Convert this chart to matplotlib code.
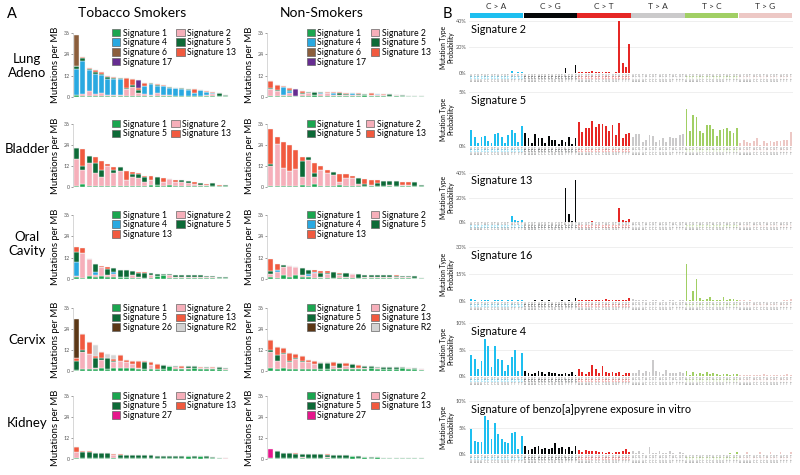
import numpy as np
import matplotlib
matplotlib.use("Agg")
import matplotlib.pyplot as plt
from matplotlib.patches import Patch, Rectangle

plt.rcParams['font.family'] = ['Lato', 'DejaVu Sans']

W, H = 800, 475

# ---------------- panel A data (segment heights, mutations per MB) ----------------
lung_smk_s1 = [1.0, 0.7, 0.7, 0.7, 0.7, 0.7, 0.7, 0.7, 0.7, 0.7, 0.7, 0.7, 0.7, 0.7, 0.7, 0.7, 0.6, 0.6, 0.6, 0.5, 0.5, 0.5, 0.4, 0.6, 0.4]
lung_smk_s2 = [0.3, 0.8, 2.8, 0.8, 1.8, 0.5, 0.3, 0.3, 3.8, 5.0, 1.8, 0.8, 0.3, 1.5, 0.3, 0.2, 0.2, 0.2, 0.2, 0.3, 0.2, 0.6, 1.5, 0.2, 0.2]
lung_smk_s4 = [14.7, 19.0, 11.5, 11.5, 10.0, 8.8, 9.0, 9.0, 0, 0, 0, 4.5, 6.5, 4.0, 5.0, 4.4, 4.2, 3.8, 3.4, 1.3, 3.0, 1.6, 0.3, 0, 0]
lung_smk_s5 = [1.5, 1.5, 0.5, 0.8, 0.7, 1.0, 0.5, 0.5, 0.3, 0.8, 1.5, 0.3, 0.5, 0.3, 0.3, 0.3, 0.3, 0.4, 0.3, 0.2, 0.2, 0.2, 0.2, 1.2, 0.4]
lung_smk_s13 = [0, 0.6, 1.0, 1.2, 0.8, 1.0, 0.5, 0.3, 5.7, 3.5, 0.8, 1.8, 0, 0.8, 0.4, 0, 0, 0, 0, 2.1, 0, 0.5, 0.6, 0, 0]
lung_smk_s17 = [0, 0, 0, 0, 0, 0, 0, 0, 0, 0, 4.7, 0, 0, 0, 0, 0, 0, 0, 0, 0, 0, 0, 0, 0, 0]
lung_smk_s6 = [17.5, 0, 0, 0, 0, 0, 0, 0, 0, 0, 0, 0, 0, 0, 0, 0, 0, 0, 0, 0, 0, 0, 0, 0, 0]

lung_non_s1 = [0.7, 0.7, 0.7, 0.7, 0.5, 0.6, 0.6, 1.2, 0.7, 0.6, 0.6, 0.8, 0.6, 0.6, 0.6, 1.0, 0.6, 0.6, 0.6, 0.8, 0.5, 0.5, 0.4, 0.4, 0.3]
lung_non_s2 = [3.8, 2.8, 0.3, 1.5, 0, 1.2, 1.8, 0, 0.8, 1.6, 0.4, 0.3, 0.7, 0.3, 0.7, 0, 0.6, 0.3, 0.5, 0, 0.4, 0.3, 0.3, 0.2, 0.2]
lung_non_s4 = [0, 0, 4.5, 1.2, 0, 0, 0, 0, 0.8, 0, 1.0, 0, 0, 1.2, 0, 0, 0, 0.8, 0, 0, 0, 0, 0, 0, 0]
lung_non_s5 = [0.5, 0.3, 0.3, 0.3, 0.3, 0.3, 0.2, 1.6, 0.3, 0.2, 0.3, 1.3, 0.3, 0.2, 0.3, 0.9, 0.2, 0.2, 0.2, 0.7, 0.2, 0.2, 0, 0, 0]
lung_non_s13 = [3.9, 3.2, 0.4, 1.3, 0, 1.4, 0.4, 0, 0.3, 0.3, 0.3, 0.2, 0.9, 0.2, 0.6, 0, 0.6, 0, 0.5, 0, 0.1, 0, 0, 0, 0]
lung_non_s17 = [0, 0, 0, 0, 3.6, 0, 0, 0, 0, 0, 0, 0, 0, 0, 0, 0, 0, 0, 0, 0, 0, 0, 0, 0, 0]
lung_non_s6 = [0, 0, 0, 0, 0, 0, 0, 0, 0, 0, 0, 0, 0, 0, 0, 0, 0, 0, 0, 0, 0, 0, 0, 0, 0]

bladder_smk_s1 = [0.8, 1.5, 0.8, 0.8, 0.8, 0.8, 0.8, 0.8, 0.8, 0.8, 0.8, 0.8, 1.0, 1.0, 0.8, 1.0, 0.8, 0.8, 0.8, 0.8, 0.8, 0.6, 0.5, 0.5, 0.4]
bladder_smk_s2 = [15.2, 8.5, 13.2, 7.2, 5.2, 11.2, 7.2, 8.2, 3.2, 5.2, 4.2, 2.2, 3.0, 0, 2.2, 3.5, 2.2, 2.2, 1.7, 1.2, 0.5, 0.6, 0, 0.3, 0.2]
bladder_smk_s5 = [6.5, 2.0, 4.0, 6.0, 4.0, 0, 2.0, 2.5, 0, 1.5, 2.5, 3.0, 0, 5.0, 0, 0, 0, 1.0, 1.0, 0, 1.2, 0, 1.6, 0, 0.4]
bladder_smk_s13 = [0, 9.5, 0, 3.0, 5.0, 1.0, 1.5, 0, 5.0, 1.0, 0.5, 0.5, 2.5, 0, 2.0, 0, 1.0, 0, 0, 1.0, 0, 0.8, 0, 0.6, 0]

bladder_non_s1 = [0.5, 0.5, 0.5, 0.5, 0.5, 1.0, 0.5, 2.0, 0.5, 0.5, 0.5, 1.0, 0.5, 0.5, 0.5, 0.5, 0.5, 0.5, 0.5, 0.5, 0.5, 0.5, 0.5, 0.5, 0.3]
bladder_non_s2 = [11.5, 24.0, 10.5, 8.5, 10.0, 4.5, 15.0, 4.0, 9.5, 7.5, 6.5, 2.0, 4.5, 4.5, 1.5, 0, 0.5, 0, 0, 0.5, 0, 0.5, 0.5, 0, 0]
bladder_non_s5 = [1.0, 0, 0, 0, 0, 9.5, 1.5, 2.0, 0, 0, 1.5, 0, 0, 0, 3.0, 1.5, 0, 2.0, 3.0, 2.5, 3.0, 0, 0, 2.5, 0.8]
bladder_non_s13 = [20.0, 4.0, 14.5, 15.0, 10.5, 2.0, 0, 6.0, 2.0, 2.0, 0, 4.5, 2.5, 1.5, 0, 2.5, 3.0, 1.5, 0, 0, 0, 2.0, 2.0, 0, 0]

oral_smk_s1 = [1.0, 0.5, 1.5, 1.0, 1.5, 1.0, 1.0, 1.0, 1.0, 0.8, 0.8, 0.8, 0.8, 1.5, 2.0, 0.8, 0.8, 0.8, 0.8, 0.8, 0.8, 0.8, 0.6, 0.6, 0.4]
oral_smk_s2 = [0.5, 14.0, 9.5, 1.0, 5.0, 1.0, 2.0, 0, 0.3, 1.7, 0.5, 0, 1.2, 0, 0.3, 1.5, 0.2, 0.5, 0.3, 0.4, 0.6, 0.4, 0.3, 0.2, 0.2]
oral_smk_s4 = [8.0, 0, 0, 2.0, 0, 0, 1.0, 0, 0, 0, 0, 0, 0, 0, 0, 0, 0, 0, 0, 0, 0, 0, 0, 0, 0]
oral_smk_s5 = [5.5, 0, 0, 4.5, 0.5, 3.5, 2.0, 4.0, 3.7, 2.0, 2.2, 2.7, 1.5, 1.5, 0.5, 0.3, 1.5, 1.2, 1.3, 1.0, 0.6, 0.7, 0.6, 0.6, 0.4]
oral_smk_s13 = [3.0, 3.0, 0, 0, 0.3, 1.0, 0, 0, 0, 0, 0.5, 0.5, 0, 0, 0, 0, 0, 0, 0, 0, 0, 0, 0, 0, 0]

oral_non_s1 = [1.0, 0.8, 2.0, 1.0, 2.0, 1.0, 1.0, 0.8, 0.8, 0.8, 0.8, 0.8, 0.8, 0.8, 0.8, 0.8, 0.8, 0.8, 0.8, 0.8, 0.8, 0.8, 0.8, 0.6, 0.3]
oral_non_s2 = [2.0, 3.2, 5.0, 6.5, 5.0, 1.0, 0.5, 2.5, 0.5, 2.2, 0, 1.5, 0.3, 1.8, 0, 0.5, 0.3, 0.5, 0.2, 0.2, 0.3, 0.2, 0.2, 0.2, 0.4]
oral_non_s4 = [0, 1.0, 0, 0, 0, 0, 1.5, 0.7, 0, 0, 0, 0, 0, 0, 0, 0, 0, 0, 0, 0, 0, 0, 0, 0, 0]
oral_non_s5 = [1.5, 0, 1.0, 0, 0, 4.0, 2.0, 0, 2.2, 0.5, 3.2, 0.5, 2.4, 0.4, 2.2, 1.2, 1.4, 1.2, 1.0, 1.0, 0.5, 0.8, 0.8, 0.7, 0]
oral_non_s13 = [6.5, 3.5, 0, 0, 0, 0, 0, 1.0, 1.0, 1.0, 0, 0.7, 0, 0, 0, 0, 0, 0, 0, 0, 0.4, 0, 0, 0, 0]

cervix_smk_s1 = [0.5, 1.0, 1.0, 1.0, 1.5, 1.0, 1.5, 2.0, 2.0, 2.0, 1.0, 1.0, 1.0, 1.0, 1.0, 2.8, 1.0, 1.0, 1.0, 1.5, 1.0, 1.0, 1.0, 1.0, 0.8]
cervix_smk_s2 = [0, 10.0, 8.5, 0.5, 5.0, 0, 3.5, 4.0, 3.0, 2.0, 1.0, 0, 2.5, 0, 0, 0, 1.5, 1.0, 0.5, 0, 0.5, 1.0, 0.5, 0.3, 0.4]
cervix_smk_s5 = [5.5, 1.0, 0.5, 6.0, 1.0, 6.5, 1.0, 0, 0, 0, 0, 4.0, 0, 0, 2.5, 0.2, 0.5, 0, 1.5, 1.5, 0, 0.5, 0.5, 1.2, 0.3]
cervix_smk_s13 = [1.5, 9.0, 6.5, 1.0, 3.5, 0, 1.0, 3.0, 1.5, 2.0, 4.0, 0.5, 1.5, 3.0, 0, 0, 0, 1.0, 0, 0, 1.0, 0, 0.5, 0, 0]
cervix_smk_r2 = [0, 0, 0, 6.5, 0, 2.0, 2.0, 0, 0, 0, 0, 0, 0, 0, 0, 0, 0, 0, 0, 0, 0, 0, 0, 0, 0]
cervix_smk_s26 = [22.5, 0, 0, 0, 0, 0, 0, 0, 0, 0, 0, 0, 0, 0, 0, 0, 0, 0, 0, 0, 0, 0, 0, 0, 0]

cervix_non_s1 = [2.0, 1.0, 2.0, 1.0, 1.0, 1.0, 1.0, 1.0, 1.0, 1.0, 1.0, 1.0, 1.0, 1.0, 1.0, 1.0, 1.5, 1.0, 1.0, 1.0, 1.0, 1.5, 1.0, 1.0, 0.8]
cervix_non_s2 = [9.0, 5.0, 8.0, 4.0, 6.0, 4.0, 4.0, 3.0, 0, 0, 2.0, 0.5, 2.0, 0.5, 1.0, 0.5, 0.5, 1.0, 0.3, 0.3, 0.3, 0.5, 1.0, 0.2, 0.2]
cervix_non_s5 = [1.0, 3.0, 0.5, 0.5, 0.5, 1.0, 0, 0, 3.5, 3.5, 0, 3.0, 0, 2.5, 0, 1.5, 1.0, 0.5, 1.2, 1.2, 1.2, 0.5, 0, 0.8, 0]
cervix_non_s13 = [5.5, 4.5, 2.5, 5.0, 2.0, 2.5, 1.5, 1.5, 0, 0, 2.0, 0, 1.5, 0, 1.5, 0, 0, 0, 0, 0, 0, 0, 0, 0, 0]
cervix_non_r2 = [0, 0, 0, 0, 0, 0, 0, 0, 0.5, 0.5, 0, 0, 0, 0, 0, 0, 0, 0, 0, 0, 0, 0, 0, 0, 0]
cervix_non_s26 = [0, 0, 0, 0, 0, 0, 0, 0, 0, 0, 0, 0, 0, 0, 0, 0, 0, 0, 0, 0, 0, 0, 0, 0, 0]

kidney_smk_s1 = [0.5, 0.5, 0.5, 0.5, 0.5, 0.5, 0.5, 0.5, 0.5, 0.5, 0.5, 0.5, 0.5, 0.5, 0.5, 0.5, 0.5, 0.5, 1.5, 0.5, 1.5, 0.5, 0.5, 0.5, 0.2]
kidney_smk_s2 = [3.5, 0.3, 0, 0, 0, 0, 1.8, 0, 0, 0, 0, 0, 0, 0, 0, 0, 0, 0, 0, 0, 0, 0, 0, 0, 0.3]
kidney_smk_s5 = [0, 3.2, 3.7, 3.0, 3.0, 3.0, 0, 2.0, 2.0, 2.0, 2.0, 2.0, 2.0, 1.5, 1.5, 1.5, 1.5, 1.0, 0, 1.0, 0, 1.0, 0.5, 0.3, 0]
kidney_smk_s13 = [3.0, 0.5, 0.3, 0, 0, 0, 0.7, 0.5, 0, 0, 0, 0, 0, 0, 0, 0, 0, 0, 0, 0, 0, 0, 0, 0, 0]
kidney_smk_s27 = [0, 0, 0, 0, 0, 0, 0, 0, 0, 0, 0, 0, 0, 0, 0, 0, 0, 0, 0, 0, 0, 0, 0, 0, 0]

kidney_non_s1 = [0.5, 0.5, 0.5, 0.5, 0.5, 0.5, 0.5, 0.5, 0.5, 0.5, 0.5, 0.5, 0.5, 1.5, 0.5, 1.2, 0.5, 0.9, 0.5, 0.8, 0.7, 0.6, 0.6, 0.5, 0.4]
kidney_non_s2 = [0, 0, 0, 0, 0, 0.8, 0, 0, 0, 0.8, 0, 0, 0, 0, 0, 0, 0, 0, 0, 0, 0, 0, 0, 0, 0]
kidney_non_s5 = [0, 4.0, 3.0, 3.0, 2.2, 1.7, 2.5, 2.5, 2.3, 1.0, 2.0, 2.0, 2.0, 0, 1.0, 0, 0.7, 0, 0.3, 0, 0, 0, 0, 0, 0]
kidney_non_s13 = [0, 0, 0, 0, 0.5, 0, 0, 0, 0, 0.5, 0, 0, 0, 0, 0, 0, 0, 0, 0, 0, 0, 0, 0, 0, 0]
kidney_non_s27 = [5.5, 0, 0, 0, 0, 0, 0, 0, 0, 0, 0, 0, 0, 0, 0, 0, 0, 0, 0, 0, 0, 0, 0, 0, 0]

# ---------------- panel B data (percent, 96 trinucleotide contexts) ----------------
sig2 = [0.3, 0.1, 0.1, 0.2, 0.1, 0.1, 0.1, 0.1, 0.2, 0.1, 0.1, 0.1, 1.2, 0.3, 0.6, 0.8,
        0.1, 0.1, 0.1, 0.1, 0.1, 0.1, 0.1, 0.1, 0.1, 0.1, 0.1, 0.1, 3.6, 0.3, 0.3, 6.5,
        0.6, 0.5, 0.4, 0.7, 1.2, 0.6, 0.5, 0.6, 0.8, 0.6, 0.3, 0.5, 40.5, 8.0, 4.5, 22.5,
        0.1, 0.05, 0.05, 0.1, 0.05, 0.05, 0.05, 0.1, 0.05, 0.05, 0.05, 0.1, 0.1, 0.05, 0.05, 0.1,
        0.05, 0.05, 0.05, 0.05, 0.05, 0.05, 0.05, 0.05, 0.05, 0.05, 0.05, 0.05, 0.05, 0.05, 0.05, 0.05,
        0.05, 0.05, 0.05, 0.05, 0.05, 0.05, 0.05, 0.05, 0.05, 0.05, 0.05, 0.05, 0.05, 0.05, 0.05, 0.05]
sig5 = [1.5, 0.85, 0.25, 0.85, 0.9, 0.45, 0.25, 1.1, 1.2, 0.85, 0.25, 1.05, 1.5, 1.2, 0.4, 1.85,
        1.2, 0.7, 0.25, 1.15, 0.7, 0.7, 0.3, 0.9, 0.55, 0.55, 0.2, 0.55, 0.4, 0.8, 0.2, 0.7,
        2.2, 1.3, 1.65, 1.65, 2.3, 1.8, 2.05, 2.0, 1.85, 1.4, 1.95, 1.05, 2.1, 0.75, 1.15, 1.2,
        0.85, 1.15, 1.1, 0.4, 0.6, 1.0, 0.9, 0.4, 0.55, 0.7, 0.4, 0.85, 0.7, 0.7, 1.0, 1.1,
        3.45, 1.4, 2.85, 2.7, 1.4, 1.2, 1.9, 1.9, 1.6, 0.9, 1.5, 1.6, 1.7, 1.4, 1.2, 1.7,
        0.3, 0.6, 0.4, 0.25, 0.45, 0.7, 0.1, 0.5, 0.25, 0.45, 0.4, 0.45, 0.5, 0.55, 0.6, 1.3]
sig13 = [0.2, 0.1, 0.1, 0.1, 0.1, 0.1, 0.1, 0.1, 0.1, 0.1, 0.1, 0.1, 5.0, 1.5, 0.5, 1.6,
         0.3, 0.2, 0.1, 0.3, 0.2, 0.2, 0.1, 0.3, 0.2, 0.2, 0.1, 0.2, 28.0, 6.5, 1.0, 34.0,
         0.3, 0.2, 0.2, 0.3, 0.5, 0.3, 0.2, 0.4, 0.3, 0.2, 0.2, 0.3, 11.5, 1.5, 0.8, 2.5,
         0.1, 0.05, 0.05, 0.1, 0.05, 0.05, 0.05, 0.1, 0.05, 0.05, 0.05, 0.1, 0.1, 0.05, 0.05, 0.1,
         0.05, 0.05, 0.05, 0.05, 0.05, 0.05, 0.05, 0.05, 0.05, 0.05, 0.05, 0.05, 0.05, 0.05, 0.05, 0.05,
         0.05, 0.05, 0.05, 0.05, 0.05, 0.05, 0.05, 0.05, 0.05, 0.05, 0.05, 0.05, 0.05, 0.05, 0.05, 0.05]
sig16 = [1.2, 0.3, 0.2, 0.5, 0.6, 0.3, 0.2, 0.3, 0.5, 0.3, 0.2, 0.6, 0.5, 0.2, 0.5, 0.6,
         0.2, 0.2, 0.1, 0.6, 0.2, 0.4, 0.1, 0.5, 0.2, 0.2, 0.1, 0.3, 0.2, 0.3, 0.2, 1.8,
         0.5, 0.4, 0.3, 0.5, 0.4, 0.3, 0.3, 0.6, 1.2, 0.5, 0.3, 0.6, 0.4, 0.6, 0.5, 1.7,
         1.2, 0.5, 0.3, 0.4, 0.5, 0.2, 0.3, 0.3, 0.2, 0.3, 0.2, 0.4, 0.3, 0.2, 0.3, 0.4,
         20.5, 0.8, 5.5, 12.5, 1.7, 0.5, 1.0, 2.5, 0.3, 0.5, 0.4, 2.0, 0.5, 1.0, 1.2, 0.4,
         0.4, 0.3, 0.2, 0.3, 0.2, 0.2, 0.1, 0.2, 0.2, 0.1, 0.2, 0.2, 0.1, 0.5, 0.4, 1.0]
sig4 = [4.05, 3.2, 1.25, 2.8, 6.95, 5.6, 1.75, 5.6, 3.2, 3.0, 1.0, 2.1, 3.6, 4.9, 0.95, 4.25,
        0.95, 0.5, 0.4, 0.6, 0.95, 0.7, 0.4, 0.75, 0.6, 0.55, 0.4, 0.45, 0.6, 0.3, 0.7, 0.2,
        1.3, 0.75, 0.4, 0.75, 2.05, 1.25, 0.5, 1.8, 0.7, 0.5, 0.75, 0.5, 0.8, 0.15, 0.6, 0.5,
        0.5, 0.6, 1.1, 0.5, 0.95, 0.8, 3.0, 1.0, 0.8, 0.4, 1.1, 0.5, 0.5, 0.6, 0.8, 0.6,
        0.95, 0.25, 0.7, 0.4, 0.6, 0.3, 0.75, 0.4, 0.6, 0.45, 0.25, 0.4, 0.3, 0.25, 0.3, 0.35,
        0.1, 0.15, 0.1, 0.1, 0.2, 0.1, 0.1, 0.3, 0.1, 0.15, 0.2, 0.1, 0.1, 0.1, 0.3, 0.2]
sig_bap = [4.7, 2.45, 2.2, 2.3, 7.2, 6.5, 2.75, 5.9, 3.75, 2.75, 2.3, 2.05, 3.9, 4.2, 0.95, 3.4,
           1.55, 0.75, 0.9, 1.4, 1.5, 0.95, 1.05, 1.0, 1.15, 2.0, 1.05, 1.35, 1.0, 1.35, 0.6, 1.55,
           0.75, 0.45, 0.75, 0.55, 0.55, 0.5, 0.45, 0.4, 0.25, 0.35, 0.25, 0.45, 0.4, 0.55, 0.9, 0.3,
           0.55, 0.2, 0.6, 0.25, 0.05, 1.25, 0.2, 0.2, 0.5, 0.15, 0.1, 0.5, 0.1, 0.05, 0.45, 0.1,
           0.05, 0.05, 0.05, 0.05, 0.05, 0.05, 0.05, 0.05, 0.05, 0.05, 0.05, 0.05, 0.05, 0.25, 0.05, 0.45,
           0.05, 0.05, 0.4, 0.05, 0.05, 0.05, 0.35, 0.05, 0.05, 0.4, 0.05, 0.05, 0.4, 0.05, 0.05, 0.45]

mutation_types = ["C > A", "C > G", "C > T", "T > A", "T > C", "T > G"]
type_colors = ["#1EBFF0", "#050708", "#E62725", "#CBCACB", "#A1CF64", "#EDC8C5"]

sig_colors = {
    "Signature 1": "#1BA650", "Signature 2": "#F6AFBA", "Signature 4": "#29A9E1",
    "Signature 5": "#0D6A37", "Signature 13": "#F15A3F", "Signature R2": "#D3D3D3",
    "Signature 17": "#662D91", "Signature 6": "#8B5E3C", "Signature 26": "#5B3716",
    "Signature 27": "#E6168C",
}
stack_order = ["Signature 1", "Signature 2", "Signature 4", "Signature 5", "Signature 13",
               "Signature R2", "Signature 17", "Signature 6", "Signature 26", "Signature 27"]


def box(left, top, right, bottom):
    return [left / W, 1 - bottom / H, (right - left) / W, (bottom - top) / H]


fig = plt.figure(figsize=(8, 4.75), dpi=100)

# ---------------- panel A ----------------
rows = [
    ("Lung\nAdeno", 33, 97, 66,
     {"Signature 1": lung_smk_s1, "Signature 2": lung_smk_s2, "Signature 4": lung_smk_s4, "Signature 5": lung_smk_s5,
      "Signature 13": lung_smk_s13, "Signature 17": lung_smk_s17, "Signature 6": lung_smk_s6},
     {"Signature 1": lung_non_s1, "Signature 2": lung_non_s2, "Signature 4": lung_non_s4, "Signature 5": lung_non_s5,
      "Signature 13": lung_non_s13, "Signature 17": lung_non_s17, "Signature 6": lung_non_s6},
     ["Signature 1", "Signature 4", "Signature 6", "Signature 17", "Signature 2", "Signature 5", "Signature 13"]),
    ("Bladder", 124, 187, 149,
     {"Signature 1": bladder_smk_s1, "Signature 2": bladder_smk_s2, "Signature 5": bladder_smk_s5, "Signature 13": bladder_smk_s13},
     {"Signature 1": bladder_non_s1, "Signature 2": bladder_non_s2, "Signature 5": bladder_non_s5, "Signature 13": bladder_non_s13},
     ["Signature 1", "Signature 5", "Signature 2", "Signature 13"]),
    ("Oral\nCavity", 215, 279, 244,
     {"Signature 1": oral_smk_s1, "Signature 2": oral_smk_s2, "Signature 4": oral_smk_s4, "Signature 5": oral_smk_s5, "Signature 13": oral_smk_s13},
     {"Signature 1": oral_non_s1, "Signature 2": oral_non_s2, "Signature 4": oral_non_s4, "Signature 5": oral_non_s5, "Signature 13": oral_non_s13},
     ["Signature 1", "Signature 4", "Signature 13", "Signature 2", "Signature 5"]),
    ("Cervix", 308, 371, 340,
     {"Signature 1": cervix_smk_s1, "Signature 2": cervix_smk_s2, "Signature 5": cervix_smk_s5, "Signature 13": cervix_smk_s13,
      "Signature R2": cervix_smk_r2, "Signature 26": cervix_smk_s26},
     {"Signature 1": cervix_non_s1, "Signature 2": cervix_non_s2, "Signature 5": cervix_non_s5, "Signature 13": cervix_non_s13,
      "Signature R2": cervix_non_r2, "Signature 26": cervix_non_s26},
     ["Signature 1", "Signature 5", "Signature 26", "Signature 2", "Signature 13", "Signature R2"]),
    ("Kidney", 396, 459, 423,
     {"Signature 1": kidney_smk_s1, "Signature 2": kidney_smk_s2, "Signature 5": kidney_smk_s5, "Signature 13": kidney_smk_s13, "Signature 27": kidney_smk_s27},
     {"Signature 1": kidney_non_s1, "Signature 2": kidney_non_s2, "Signature 5": kidney_non_s5, "Signature 13": kidney_non_s13, "Signature 27": kidney_non_s27},
     ["Signature 1", "Signature 5", "Signature 27", "Signature 2", "Signature 13"]),
]


def draw_stack(ax, data, legend_order):
    n = len(data["Signature 1"])
    x = np.arange(n)
    base = np.zeros(n)
    for sig in stack_order:
        if sig in data:
            vals = np.array(data[sig], dtype=float)
            ax.bar(x, vals, 0.8, bottom=base, color=sig_colors[sig], edgecolor="#f4f4f4", linewidth=0.3)
            base += vals
    ax.set_xlim(-0.6, n - 0.4)
    ax.set_ylim(0, 36)
    ax.set_yticks([0, 12, 24, 36])
    ax.tick_params(axis="y", labelsize=3.8, length=1.5, width=0.4, pad=1, colors="#555555")
    ax.set_xticks([])
    for s in ["top", "right", "bottom"]:
        ax.spines[s].set_visible(False)
    ax.spines["left"].set_color("#c8c8c8")
    ax.spines["left"].set_linewidth(0.5)
    ax.set_ylabel("Mutations per MB", fontsize=6.8, labelpad=1)
    ax.yaxis.set_label_coords(-0.085, 0.5)
    handles = [Patch(facecolor=sig_colors[s], edgecolor="#666666", linewidth=0.5, label=s) for s in legend_order]
    ax.legend(handles=handles, ncol=2, loc="upper left", bbox_to_anchor=(0.25, 1.07), frameon=False,
              fontsize=6.3, handlelength=0.95, handleheight=0.95, handletextpad=0.3, labelspacing=0.08,
              columnspacing=0.5, borderaxespad=0, borderpad=0)


for label, top, bottom, label_y, smk, non, order in rows:
    ax1 = fig.add_axes(box(73, top, 229, bottom))
    draw_stack(ax1, smk, order)
    ax2 = fig.add_axes(box(267, top, 425, bottom))
    draw_stack(ax2, non, order)
    fig.text(27 / W, 1 - label_y / H, label, ha="center", va="center", fontsize=9.5, linespacing=1.2)

fig.text(12 / W, 1 - 14 / H, "A", ha="center", va="center", fontsize=10.5)
fig.text(132 / W, 1 - 13 / H, "Tobacco Smokers", ha="center", va="center", fontsize=10)
fig.text(322 / W, 1 - 13 / H, "Non-Smokers", ha="center", va="center", fontsize=10)

# ---------------- panel B ----------------
fig.text(447 / W, 1 - 14 / H, "B", ha="center", va="center", fontsize=10.5)

hx = fig.add_axes(box(469, 13, 793, 18))
hx.set_xlim(-0.7, 95.7)
hx.set_ylim(0, 1)
hx.axis("off")
for g, (name, col) in enumerate(zip(mutation_types, type_colors)):
    hx.add_patch(Rectangle((g * 16 - 0.45, 0), 15.9, 1, color=col, lw=0))
    hx.text(g * 16 + 7.5, 1.6, name, ha="center", va="bottom", fontsize=6, color="#333333")

sig_panels = [
    ("Signature 2", sig2, 40, [0, 20, 40], 21, 73),
    ("Signature 5", sig5, 5, [0, 5], 92, 146),
    ("Signature 13", sig13, 40, [0, 20, 40], 173, 222),
    ("Signature 16", sig16, 30, [0, 15, 30], 247, 301),
    ("Signature 4", sig4, 10, [0, 5, 10], 323, 376),
    ("Signature of benzo[a]pyrene exposure in vitro", sig_bap, 10, [0, 5, 10], 401, 454),
]

bases = "ACGT"
for title, vals, ymax, ticks, top, bottom in sig_panels:
    ax = fig.add_axes(box(469, top, 793, bottom))
    x = np.arange(96)
    colors = [type_colors[k // 16] for k in range(96)]
    ax.bar(x, vals, 0.55, color=colors, zorder=2)
    ax.set_xlim(-0.7, 95.7)
    ax.set_ylim(0, ymax)
    ax.set_yticks(ticks)
    ax.set_yticklabels([f"{t}%" for t in ticks])
    ax.tick_params(axis="y", labelsize=4, length=0, pad=2, colors="#555555")
    ax.set_xticks([])
    ax.grid(axis="y", color="#ececec", linewidth=0.6, zorder=0)
    for s in ax.spines.values():
        s.set_visible(False)
    ax.set_ylabel("Mutation Type\nProbability", fontsize=4.8, linespacing=1.1)
    ax.yaxis.set_label_coords(-0.045, 0.5)
    ax.text(0.006, 0.95, title, transform=ax.transAxes, ha="left", va="top", fontsize=7.8)
    tr = ax.get_xaxis_transform()
    for k in range(96):
        g, j = divmod(k, 16)
        ref = "C" if g < 3 else "T"
        ax.text(k, -0.05, bases[j % 4], transform=tr, ha="center", va="center", fontsize=2.2, color="#777777")
        ax.text(k, -0.10, ref, transform=tr, ha="center", va="center", fontsize=2.2, color=type_colors[g])
        ax.text(k, -0.15, bases[j // 4], transform=tr, ha="center", va="center", fontsize=2.2, color="#777777")

fig.savefig("out.png", dpi=100)
